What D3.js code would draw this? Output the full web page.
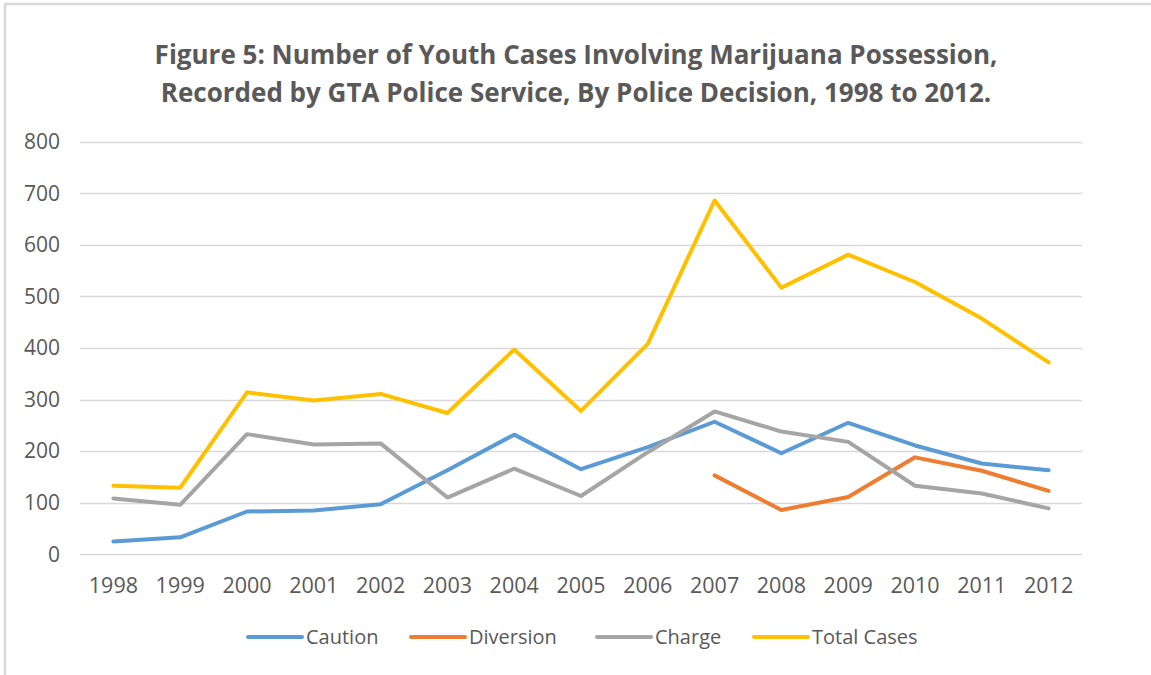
<!DOCTYPE html>
<html>
<head>
<meta charset="utf-8">
<script src="https://cdn.jsdelivr.net/npm/d3@7"></script>
<style>
  body { margin: 0; background: #fff; }
  svg text { font-family: "Open Sans", sans-serif; fill: #595959; }
</style>
</head>
<body>
<div id="chart"></div>
<script>
// values
const years = ["1998", "1999", "2000", "2001", "2002", "2003", "2004", "2005",
               "2006", "2007", "2008", "2009", "2010", "2011", "2012"];
const caution   = [25, 33, 83, 85, 97, 163, 232, 165, 208, 257, 196, 255, 211, 176, 163];
const diversion = [null, null, null, null, null, null, null, null, null, 153, 86, 111, 188, 162, 123];
const charge    = [108, 96, 233, 213, 215, 110, 166, 113, 198, 277, 238, 218, 133, 118, 89];
const total     = [133, 129, 314, 298, 311, 274, 397, 278, 408, 686, 517, 581, 528, 457, 372];
const series_names  = ["Caution", "Diversion", "Charge", "Total Cases"];
const series_colors = ["#5b9bd5", "#ed7d31", "#a5a5a5", "#ffc000"];
const y_ticks = [0, 100, 200, 300, 400, 500, 600, 700, 800];

const width = 1151, height = 675;
const plot_left = 80, plot_right = 1082, plot_top = 141.7, plot_bottom = 554.3;

let svg = d3.select("#chart")
    .append("svg")
    .attr("width", width)
    .attr("height", height);

// outer frame (only top and left edges are visible in the picture)
svg.append("line")
    .attr("x1", 4).attr("x2", width).attr("y1", 4).attr("y2", 4)
    .attr("stroke", "#d9d9d9").attr("stroke-width", 2.5);
svg.append("line")
    .attr("x1", 5).attr("x2", 5).attr("y1", 4).attr("y2", height)
    .attr("stroke", "#d9d9d9").attr("stroke-width", 2.5);

// title
let title = svg.append("text")
    .attr("text-anchor", "middle")
    .attr("font-size", "26px")
    .attr("font-weight", "bold");
title.append("tspan").attr("x", 576).attr("y", 64)
    .text("Figure 5: Number of Youth Cases Involving Marijuana Possession,");
title.append("tspan").attr("x", 576).attr("y", 102)
    .text("Recorded by GTA Police Service, By Police Decision, 1998 to 2012.");

let xScale = d3.scaleBand()
    .domain(years)
    .range([plot_left, plot_right]);

let yScale = d3.scaleLinear()
    .domain([0, 800])
    .range([plot_bottom, plot_top]);

// gridlines
svg.append("g")
    .selectAll("line")
    .data(y_ticks)
    .enter()
    .append("line")
    .attr("x1", plot_left)
    .attr("x2", plot_right)
    .attr("y1", function(d) { return Math.round(yScale(d)) + 0.5; })
    .attr("y2", function(d) { return Math.round(yScale(d)) + 0.5; })
    .attr("stroke", "#d9d9d9")
    .attr("stroke-width", 1.3);

// y axis labels
let y_axis = svg.append("g")
    .attr("transform", "translate(" + (plot_left - 20) + ",0)")
    .call(d3.axisLeft(yScale).tickValues(y_ticks).tickSize(0).tickPadding(0));
y_axis.select(".domain").remove();
y_axis.selectAll("text")
    .attr("font-size", "21px")
    .style("font-family", "'Open Sans', sans-serif")
    .attr("fill", "#595959");

// x axis labels
let x_axis = svg.append("g")
    .attr("transform", "translate(0," + (plot_bottom + 23) + ")")
    .call(d3.axisBottom(xScale).tickSize(0).tickPadding(0));
x_axis.select(".domain").remove();
x_axis.selectAll("text")
    .attr("font-size", "21.5px")
    .style("font-family", "'Open Sans', sans-serif")
    .attr("fill", "#595959");

// lines
let all_series = [caution, diversion, charge, total];
let line = d3.line()
    .defined(function(d) { return d !== null; })
    .x(function(d, i) { return xScale(years[i]) + xScale.bandwidth() / 2; })
    .y(function(d) { return yScale(d); });

svg.append("g")
    .selectAll("path")
    .data(all_series)
    .enter()
    .append("path")
    .attr("d", line)
    .attr("fill", "none")
    .attr("stroke", function(d, i) { return series_colors[i]; })
    .attr("stroke-width", 4)
    .attr("stroke-linecap", "round")
    .attr("stroke-linejoin", "round");

// legend
const legend_x = [248, 411, 597, 754];
let legend = svg.append("g");
legend.selectAll("line")
    .data(series_names)
    .enter()
    .append("line")
    .attr("x1", function(d, i) { return legend_x[i]; })
    .attr("x2", function(d, i) { return legend_x[i] + 54; })
    .attr("y1", 637)
    .attr("y2", 637)
    .attr("stroke", function(d, i) { return series_colors[i]; })
    .attr("stroke-width", 4)
    .attr("stroke-linecap", "round");
legend.selectAll("text")
    .data(series_names)
    .enter()
    .append("text")
    .attr("x", function(d, i) { return legend_x[i] + 58; })
    .attr("y", 637)
    .attr("dy", "0.35em")
    .attr("font-size", "20px")
    .text(function(d) { return d; });
</script>
</body>
</html>
